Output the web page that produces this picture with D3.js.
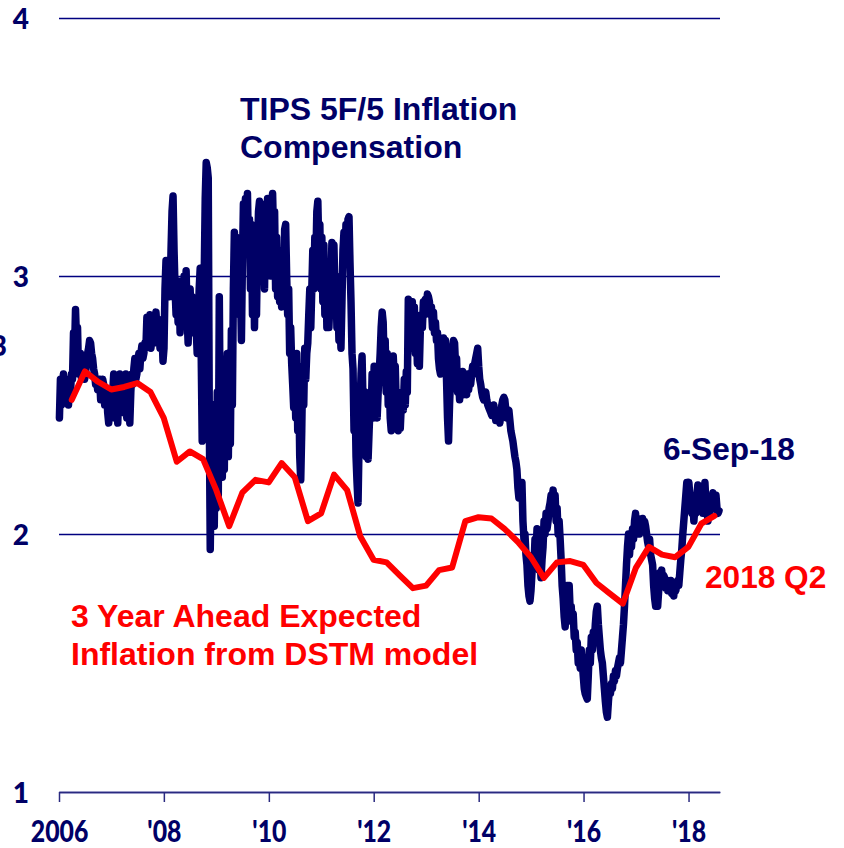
<!DOCTYPE html>
<html>
<head>
<meta charset="utf-8">
<script src="https://cdn.jsdelivr.net/npm/d3@7"></script>
<style>
  body { margin: 0; background: #fff; }
  svg { display: block; }
  .lbl { font-family: "Liberation Sans", Arial, sans-serif; font-weight: bold; font-size: 32px; }
  .tick text { font-family: Lato, "Open Sans", sans-serif; font-weight: 900; fill: #000066; }
</style>
</head>
<body>
<svg id="chart" width="844" height="848"></svg>
<script>
"use strict";

// TIPS 5F/5 inflation compensation, weekly readings from early Jan 2006
const tipsStart = new Date(2006, 0, 4);
const tipsValues = [
  2.45,2.60,2.50,2.58,2.62,2.55,2.52,2.60,2.58,2.50,
  2.56,2.55,2.62,2.60,2.78,2.70,2.87,2.75,2.80,2.62,
  2.66,2.70,2.60,2.64,2.66,2.60,2.62,2.68,2.70,2.72,
  2.75,2.74,2.70,2.68,2.64,2.62,2.58,2.60,2.56,2.58,
  2.60,2.52,2.55,2.60,2.58,2.50,2.52,2.55,2.47,2.43,
  2.48,2.50,2.45,2.55,2.62,2.45,2.52,2.60,2.43,2.55,
  2.62,2.52,2.58,2.60,2.47,2.55,2.62,2.45,2.52,2.60,
  2.43,2.55,2.62,2.58,2.64,2.68,2.60,2.62,2.66,2.70,
  2.64,2.70,2.73,2.68,2.70,2.74,2.72,2.84,2.78,
  2.82,2.85,2.72,2.76,2.80,2.74,2.82,2.86,2.80,2.78,
  2.83,2.72,2.76,2.78,2.67,2.72,2.95,3.06,2.98,3.05,
  2.96,2.92,3.10,3.25,3.31,3.10,2.95,2.85,2.95,2.82,
  2.98,2.78,2.92,2.88,2.85,3.00,2.90,3.02,2.85,2.74,
  2.88,2.95,2.80,2.92,2.78,2.88,2.84,2.80,2.70,2.82,
  2.95,3.03,2.70,2.36,2.60,3.00,3.30,3.44,3.42,3.38,
  2.50,1.94,2.25,2.05,2.50,2.03,2.45,2.10,2.55,2.15,
  2.92,2.40,2.62,2.22,2.55,2.25,2.68,2.35,2.70,2.30,
  2.62,2.35,2.79,2.50,2.95,3.17,3.05,3.15,2.95,3.10,
  2.85,2.98,2.75,3.05,3.28,3.20,3.30,3.15,3.32,3.10,
  3.22,2.95,3.20,2.85,3.15,2.80,3.05,2.85,3.10,3.25,
  3.29,3.15,3.26,3.05,3.20,2.95,3.28,3.10,3.30,3.05,
  3.25,3.00,3.28,3.32,3.15,3.25,2.95,3.15,2.92,3.10,
  2.90,3.05,2.88,3.00,2.95,3.18,3.20,3.00,2.85,2.95,
  2.70,2.80,2.66,2.58,2.49,2.62,2.45,2.70,2.40,2.60,
  2.30,2.21,2.40,2.65,2.50,2.72,2.60,2.70,2.74,2.85,
  2.95,2.80,2.95,3.10,2.95,3.15,3.05,3.25,3.29,3.10,
  3.20,2.95,3.15,2.90,3.12,2.85,3.05,2.80,2.95,2.80,
  2.90,2.95,3.13,3.05,3.12,2.95,3.00,2.80,2.90,
  2.75,2.85,2.72,2.90,3.10,3.17,3.05,3.20,3.10,3.22,
  3.23,3.05,2.90,2.70,2.64,2.40,2.55,2.30,2.20,2.12,
  2.35,2.50,2.62,2.69,2.50,2.40,2.55,2.30,2.45,2.29,
  2.40,2.50,2.45,2.62,2.45,2.65,2.48,2.60,2.45,2.55,
  2.62,2.70,2.80,2.86,2.82,2.65,2.75,2.55,2.70,2.50,
  2.62,2.45,2.40,2.50,2.69,2.60,2.65,2.50,2.45,2.40,
  2.45,2.41,2.50,2.55,2.48,2.60,2.50,2.63,2.55,2.91,
  2.80,2.72,2.85,2.90,2.75,2.88,2.70,2.80,2.66,2.68,
  2.65,2.80,2.85,2.80,2.90,2.85,2.91,2.88,2.93,2.92,
  2.90,2.85,2.88,2.80,2.86,2.78,2.82,2.75,2.78,2.68,
  2.64,2.62,2.66,2.72,2.76,2.70,2.75,2.60,2.45,2.36,
  2.50,2.60,2.65,2.72,2.75,2.74,2.65,2.68,2.55,2.60,
  2.52,2.62,2.55,2.63,2.54,2.58,2.60,2.54,2.62,2.56,
  2.60,2.58,2.62,2.65,2.62,2.66,2.68,2.70,2.72,2.65,
  2.60,2.58,2.55,2.53,2.52,2.54,2.55,2.52,2.50,
  2.49,2.48,2.47,2.46,2.48,2.50,2.47,2.44,2.45,2.47,
  2.45,2.43,2.46,2.50,2.52,2.53,2.52,2.48,2.45,2.47,
  2.48,2.44,2.40,2.38,2.36,2.33,2.30,2.28,2.25,2.18,
  2.14,2.20,2.16,2.20,2.05,1.98,2.00,1.92,1.88,1.80,
  1.76,1.74,1.78,1.85,1.92,1.88,1.98,1.92,2.02,1.95,
  1.86,1.90,1.83,1.90,1.95,2.05,2.00,2.08,2.02,2.05,
  2.10,2.12,2.15,2.14,2.17,2.12,2.15,2.05,2.10,2.00,
  2.05,1.98,1.90,1.80,1.75,1.68,1.64,1.72,1.80,1.75,
  1.80,1.70,1.72,1.66,1.69,1.60,1.62,1.55,1.58,1.50,
  1.52,1.48,1.55,1.50,1.45,1.40,1.38,1.37,1.36,1.45,
  1.55,1.50,1.60,1.55,1.62,1.58,1.65,1.70,1.72,1.65,
  1.60,1.55,1.52,1.50,1.45,1.40,1.35,1.31,1.29,1.35,
  1.40,1.38,1.42,1.40,1.45,1.43,1.47,1.45,1.48,1.50,
  1.52,1.50,1.55,1.60,1.65,1.72,1.80,1.88,1.95,2.00,
  1.92,1.98,1.95,2.02,1.98,2.05,2.08,2.00,2.06,2.02,
  2.00,2.05,2.03,2.06,2.02,2.05,2.03,2.00,1.97,1.95,
  1.98,1.92,1.90,1.88,1.80,1.75,1.72,1.76,1.72,1.78,
  1.85,1.82,1.86,1.80,1.84,1.83,1.79,1.82,1.78,
  1.81,1.79,1.82,1.77,1.80,1.76,1.81,1.78,1.80,1.82,
  1.80,1.85,1.90,1.94,2.00,2.05,2.10,2.15,2.20,2.18,
  2.20,2.15,2.10,2.08,2.12,2.05,2.10,2.08,2.15,2.19,
  2.12,2.18,2.10,2.15,2.08,2.17,2.20,2.12,2.10,2.05,
  2.12,2.08,2.14,2.10,2.16,2.15,2.12,2.15,2.10,2.08,2.09
];

// DSTM model, 3 year ahead expected inflation, quarterly 2006Q1 - 2018Q2
const dstmStartYear = 2006;
const dstmValues = [
  2.52, 2.63, 2.59, 2.56, 2.57, 2.585, 2.55, 2.45, 2.28, 2.32,
  2.29, 2.17, 2.03, 2.16, 2.21, 2.20, 2.275, 2.22, 2.05, 2.08,
  2.23, 2.17, 1.99, 1.90, 1.89, 1.84, 1.79, 1.80, 1.86, 1.87,
  2.05, 2.065, 2.06, 2.02, 1.97, 1.91, 1.83, 1.89, 1.895, 1.88,
  1.81, 1.77, 1.73, 1.87, 1.95, 1.92, 1.91, 1.95, 2.04, 2.07
];

const yTicks = [1, 2, 3, 4];
const xTickYears = [2006, 2008, 2010, 2012, 2014, 2016, 2018];
const xTickLabels = ["2006", "'08", "'10", "'12", "'14", "'16", "'18"];

const navy = "#000066", red = "#ff0000";

let svg = d3.select("#chart"),
  plotLeft = 59, plotRight = 720, plotTop = 18, plotBottom = 792,
  x = d3.scaleTime().domain([new Date(2006, 0, 1), new Date(2018, 7, 8)]).range([plotLeft, plotRight]),
  y = d3.scaleLinear().domain([1, 4]).range([plotBottom, plotTop])
;

let tips = tipsValues.map((v, i) => ({date: d3.timeWeek.offset(tipsStart, i), value: v})),
  dstm = dstmValues.map((v, i) => ({date: new Date(dstmStartYear, 3 + 3 * i, 0), value: v}))
;

// grid + y labels
let yAxis = svg.append("g")
  .attr("transform", "translate(" + plotLeft + ",0)")
  .call(d3.axisLeft(y).tickValues(yTicks).tickSize(-(plotRight - plotLeft)).tickPadding(30).tickFormat(d3.format("d")));
yAxis.select(".domain").remove();
yAxis.selectAll(".tick line").attr("stroke", "#000080").attr("stroke-width", 1.3);
yAxis.selectAll(".tick text").style("font-size", "28px").attr("dy", "0.36em");

// stray label clipped at the left edge
svg.append("text")
  .attr("x", 7).attr("y", 356)
  .attr("text-anchor", "end")
  .style("font-family", "Lato, sans-serif").style("font-weight", "900")
  .style("font-size", "28px").attr("fill", navy)
  .text("3");

// x axis
let xAxis = svg.append("g")
  .attr("transform", "translate(0," + plotBottom + ")")
  .call(d3.axisBottom(x)
    .tickValues(xTickYears.map(yr => new Date(yr, 0, 1)))
    .tickSizeInner(10).tickSizeOuter(0)
    .tickFormat((d, i) => xTickLabels[i]));
xAxis.select(".domain").attr("stroke", "#2a2a80").attr("stroke-width", 1.5);
xAxis.selectAll(".tick line").attr("stroke", "#2a2a80").attr("stroke-width", 1.5);
xAxis.selectAll(".tick text")
  .attr("y", 50).attr("dy", null)
  .style("font-size", "31px")
  .attr("transform", "scale(0.8,1)");

// series
let line = d3.line()
  .x(d => x(d.date))
  .y(d => y(d.value));

svg.append("path")
  .datum(tips)
  .attr("fill", "none")
  .attr("stroke", navy)
  .attr("stroke-width", 7.5)
  .attr("stroke-linejoin", "round")
  .attr("stroke-linecap", "round")
  .attr("d", line);

svg.append("path")
  .datum(dstm)
  .attr("fill", "none")
  .attr("stroke", red)
  .attr("stroke-width", 6)
  .attr("stroke-linejoin", "round")
  .attr("stroke-linecap", "round")
  .attr("d", line);

// annotations
let notes = [
  {t: "TIPS 5F/5 Inflation", x: 240, y: 120, c: navy, s: 32},
  {t: "Compensation", x: 240, y: 158, c: navy, s: 32},
  {t: "6-Sep-18", x: 663, y: 460, c: navy, s: 31.6},
  {t: "2018 Q2", x: 705, y: 588, c: red, s: 31.6},
  {t: "3 Year Ahead Expected", x: 71, y: 627, c: red, s: 32},
  {t: "Inflation from DSTM model", x: 71, y: 665, c: red, s: 32}
];
svg.selectAll(".lbl")
  .data(notes)
  .enter().append("text")
    .attr("class", "lbl")
    .attr("x", d => d.x)
    .attr("y", d => d.y)
    .attr("fill", d => d.c)
    .style("font-size", d => d.s + "px")
    .text(d => d.t);
</script>
</body>
</html>
